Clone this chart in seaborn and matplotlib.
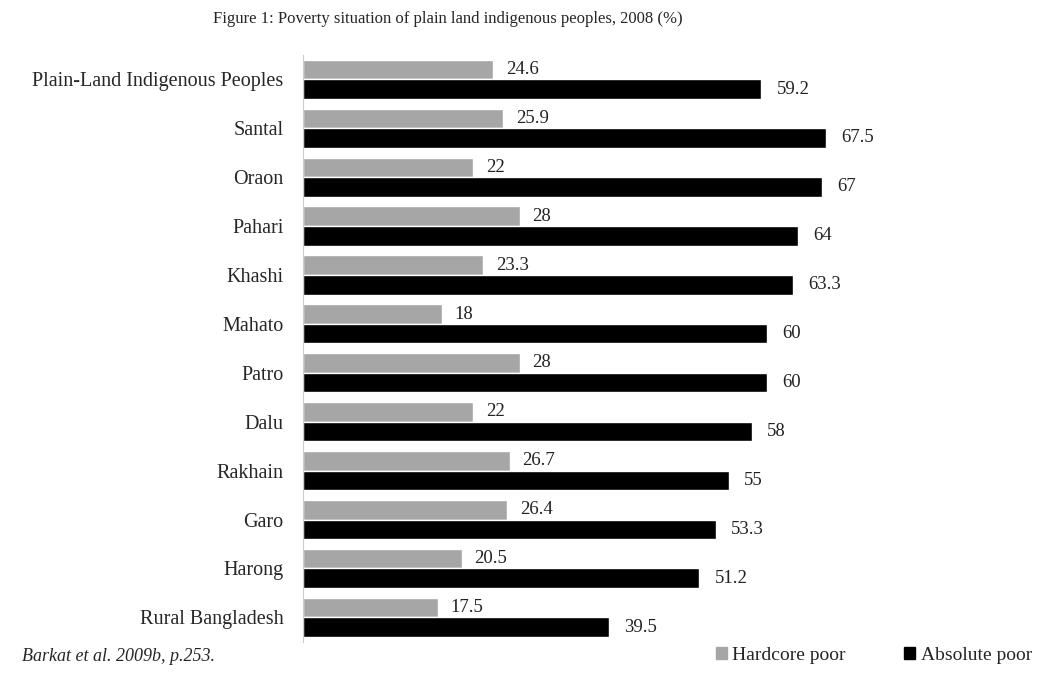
import matplotlib
matplotlib.use('Agg')
import matplotlib.pyplot as plt
import matplotlib.patches as mpatches
import numpy as np
import pandas as pd
import seaborn as sns

# data
groups = ['Plain-Land Indigenous Peoples', 'Santal', 'Oraon', 'Pahari', 'Khashi',
          'Mahato', 'Patro', 'Dalu', 'Rakhain', 'Garo', 'Harong', 'Rural Bangladesh']
hardcore = [24.6, 25.9, 22, 28, 23.3, 18, 28, 22, 26.7, 26.4, 20.5, 17.5]
absolute = [59.2, 67.5, 67, 64, 63.3, 60, 60, 58, 55, 53.3, 51.2, 39.5]
series = ['Hardcore poor', 'Absolute poor']
colors = ['#a6a6a6', '#000000']

df = pd.DataFrame({'group': groups * 2,
                   'value': hardcore + absolute,
                   'series': [series[0]] * len(groups) + [series[1]] * len(groups)})

sns.set_style('white')
plt.rcParams['font.family'] = ['Liberation Serif', 'DejaVu Serif']

fig = plt.figure(figsize=(10.48, 6.77), dpi=100)
ax = fig.add_axes([0.289, 0.052, 0.58, 0.867])

sns.barplot(data=df, y='group', x='value', hue='series', order=groups,
            hue_order=series, palette=colors, orient='h', width=0.8,
            saturation=1, legend=False, ax=ax)

for cont, pad in zip(ax.containers, [9, 11]):
    ax.bar_label(cont, labels=[f'{v:g}' for v in cont.datavalues],
                 padding=pad, fontsize=13.5, color='#222222')

ax.set_xlim(0, 78.5)
ax.set_xlabel('')
ax.set_ylabel('')
ax.set_xticks([])
ax.tick_params(axis='y', which='major', length=0, labelsize=14.5, pad=14)
ax.set_yticks(np.arange(len(groups) + 1) - 0.5, minor=True)
ax.tick_params(axis='y', which='minor', length=5, color='#999999', width=1)
for s in ['top', 'right', 'bottom']:
    ax.spines[s].set_visible(False)
ax.spines['left'].set_color('#cccccc')

fig.text(0.427, 0.972, 'Figure 1: Poverty situation of plain land indigenous peoples, 2008 (%)',
         ha='center', va='center', fontsize=12)

handles = [mpatches.Patch(color=c, label=s) for c, s in zip(colors, series)]
fig.legend(handles=handles, loc='center', bbox_to_anchor=(0.834, 0.032), ncol=2,
           frameon=False, fontsize=14, handlelength=0.55, handleheight=0.55,
           handletextpad=0.3, columnspacing=3)

fig.text(0.205, 0.03, 'Barkat et al. 2009b, p.253.', ha='right', va='center',
         fontsize=13, style='italic')

fig.savefig('out.png', dpi=100)
